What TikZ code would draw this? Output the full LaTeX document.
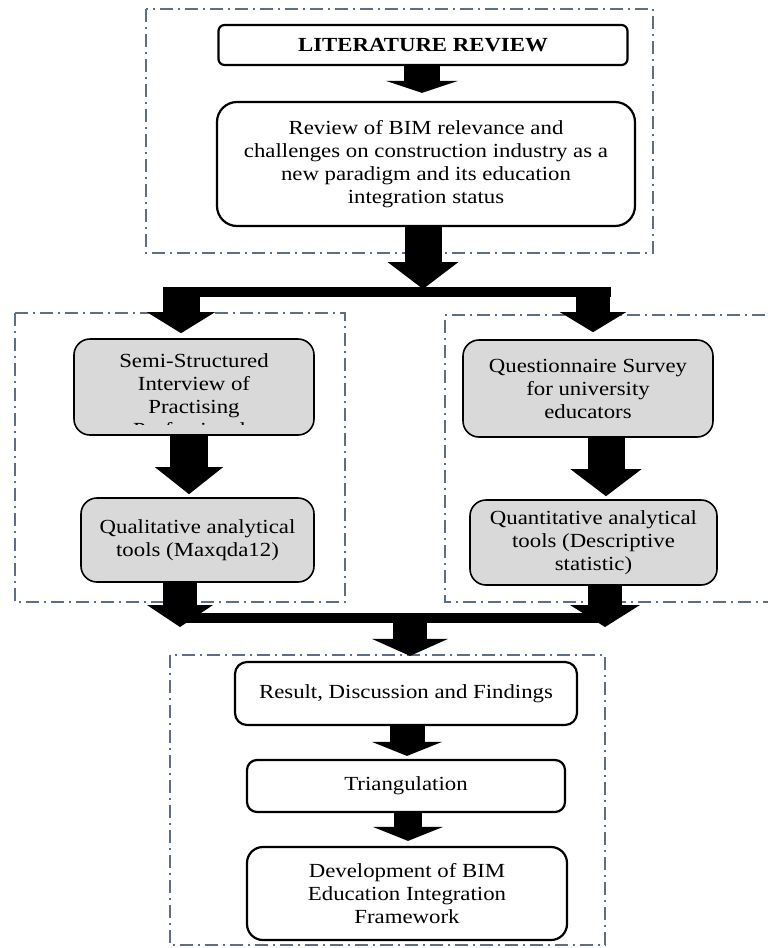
\documentclass[tikz,border=0pt]{standalone}
\usepackage{fontspec}
\setmainfont{Liberation Serif}
\newfontfamily\figfont[FakeStretch=1.14]{Liberation Serif}
\usetikzlibrary{arrows.meta}
\definecolor{dashc}{HTML}{5E6E84}
\definecolor{boxgray}{HTML}{D9D9D9}
\begin{document}
\begin{tikzpicture}[x=1pt,y=-1pt,
  every node/.style={font=\figfont\fontsize{20}{23}\selectfont, align=center, inner sep=0pt},
  wbox/.style={draw=black, line width=2.2pt, rounded corners=#1, fill=white},
  gbox/.style={draw=black, line width=1.6pt, rounded corners=16pt, fill=boxgray},
  dbox/.style={draw=dashc, line width=1.3pt, dash pattern=on 13pt off 5pt on 2pt off 5pt},
  barline/.style={line width=10pt},
  ba/.style n args={3}{line width=#1, -{Triangle[width=#2,length=#3,line width=0pt]}}
]
\useasboundingbox (0,0) rectangle (768,948);
% dashed group frames
\draw[dbox] (146,9) rectangle (653,253);
\draw[dbox] (15,313) rectangle (345,602);
\draw[dbox] (790,315) -- (445,315) -- (445,602) -- (790,602);
\draw[dbox] (170,655) rectangle (605,945);

% nodes
\node[wbox=6pt, minimum width=409pt, minimum height=40pt] (lit) at (423,45) {\bfseries LITERATURE REVIEW};
\node[wbox=20pt, minimum width=418pt, minimum height=124pt] (rev) at (426,164)
  {Review of BIM relevance and\\challenges on construction industry as a\\new paradigm and its education\\integration status};
\node[gbox, minimum width=240pt, minimum height=96pt] (semi) at (194,387) {};
\begin{scope}
  \clip (73,338) rectangle (315,424);
  \node (semitext) at (194,395.5) {Semi-Structured\\Interview of\\Practising\\Professionals};
\end{scope}
\node[gbox, minimum width=250pt, minimum height=97pt] (quest) at (588,388.5)
  {Questionnaire Survey\\for university\\educators};
\node[gbox, minimum width=233pt, minimum height=84pt] (qual) at (197.5,540)
  {Qualitative analytical\\tools (Maxqda12)};
\node[gbox, minimum width=247pt, minimum height=85pt] (quant) at (593.5,542.5)
  {Quantitative analytical\\tools (Descriptive\\statistic)};
\node[wbox=12pt, minimum width=342pt, minimum height=63pt] (res) at (406,693.5)
  {Result, Discussion and Findings};
\node[wbox=10pt, minimum width=318pt, minimum height=52pt] (tri) at (406,786)
  {Triangulation};
\node[wbox=16pt, minimum width=320pt, minimum height=93pt] (dev) at (407,893.5)
  {Development of BIM\\Education Integration\\Framework};

% junction coordinates
\coordinate (b1L) at (163,292);
\coordinate (b1R) at (611,292);
\coordinate (j1) at (423,289);
\coordinate (dL) at (181,290);
\coordinate (dR) at (593,290);
\coordinate (b2L) at (178,618);
\coordinate (b2R) at (608,618);
\coordinate (bL) at (180,627);
\coordinate (bR) at (605,627);
\coordinate (j2) at (410,620);

% block arrows
\draw[ba={36pt}{72pt}{12pt}, shorten >=8pt] (422,0 |- lit.south) -- (422,0 |- rev.north);
\draw[ba={37pt}{71pt}{27pt}] (j1 |- rev.south) -- (j1);
\draw[barline] (b1L) -- (b1R);
\draw[ba={37pt}{68pt}{21pt}, shorten >=5pt] (dL) -- (dL |- semi.north);
\draw[ba={34pt}{66pt}{20pt}, shorten >=7pt] (dR) -- (dR |- quest.north);
\draw[ba={38pt}{68pt}{27pt}, shorten >=3pt] (189,0 |- semi.south) -- (189,0 |- qual.north);
\draw[ba={37pt}{71pt}{27pt}, shorten >=3pt] (606,0 |- quest.south) -- (606,0 |- quant.north);
\draw[barline] (b2L) -- (b2R);
\draw[ba={34pt}{66pt}{22pt}] (180,0 |- qual.south) -- (bL);
\draw[ba={34pt}{70pt}{22pt}] (605,0 |- quant.south) -- (bR);
\draw[ba={34pt}{76pt}{17pt}, shorten >=5pt] (j2) -- (j2 |- res.north);
\draw[ba={35pt}{70pt}{14pt}, shorten >=3pt] (407,0 |- res.south) -- (407,0 |- tri.north);
\draw[ba={28pt}{70pt}{14pt}, shorten >=5pt] (408,0 |- tri.south) -- (408,0 |- dev.north);
\end{tikzpicture}
\end{document}
